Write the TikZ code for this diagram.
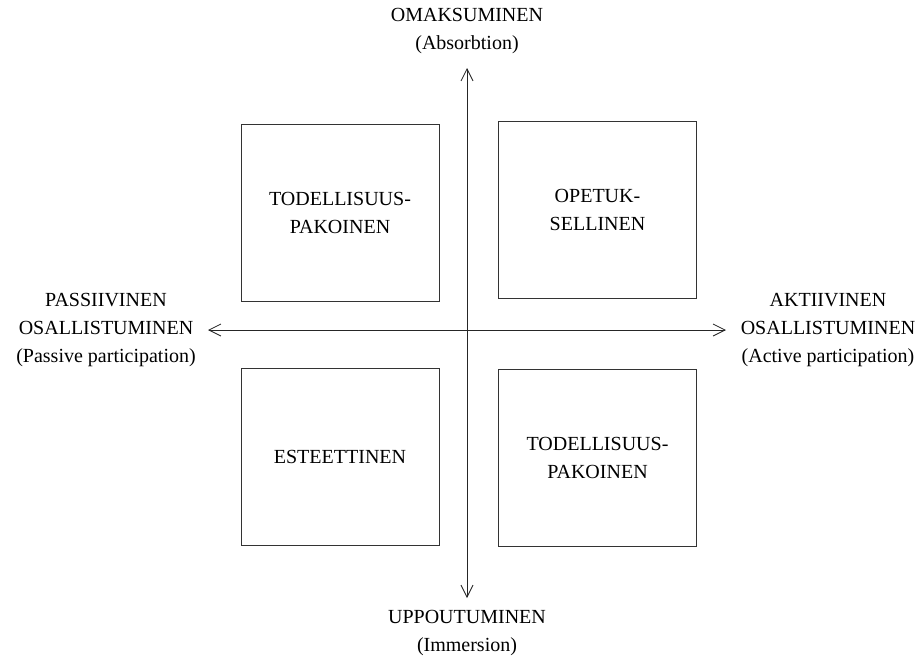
\documentclass[tikz,border=0pt]{standalone}
\usepackage{fontspec}
\setmainfont{Liberation Serif}
\usetikzlibrary{arrows.meta}
\begin{document}
\begin{tikzpicture}[x=1pt,y=-1pt,
  quad/.style={draw=black!80,line width=0.9pt,minimum width=198pt,minimum height=177pt,
    inner sep=0pt,align=center,font=\fontsize{20}{28}\selectfont},
  lbl/.style={align=center,inner sep=0pt,font=\fontsize{20}{28}\selectfont},
  axis/.style={draw=black!85,line width=0.8pt,
    {Straight Barb[length=12pt,width=12pt,line width=0.8pt]}-{Straight Barb[length=12pt,width=12pt,line width=0.8pt]}}]
\useasboundingbox (0,0) rectangle (921,657);

% quadrant boxes
\node[quad] (tl) at (340,213) {TODELLISUUS-\\PAKOINEN};
\node[quad] (tr) at (597.5,210) {OPETUK-\\SELLINEN};
\node[quad] (bl) at (340,457) {ESTEETTINEN};
\node[quad] (br) at (597.5,457.5) {TODELLISUUS-\\PAKOINEN};

% axis ends
\coordinate (top) at (467,68);
\coordinate (bot) at (467,598);
\coordinate (lft) at (208,330);
\coordinate (rgt) at (726,330);

\path[axis] (bot) -- (top);
\path[axis] (lft) -- (rgt);

% axis labels
\node[lbl] (ttop) at (467,31) {OMAKSUMINEN\\(Absorbtion)};
\node[lbl] (tbot) at (467,633) {UPPOUTUMINEN\\(Immersion)};
\node[lbl] (tlft) at (106,330) {PASSIIVINEN\\OSALLISTUMINEN\\(Passive participation)};
\node[lbl] (trgt) at (828,330) {AKTIIVINEN\\OSALLISTUMINEN\\(Active participation)};
\end{tikzpicture}
\end{document}
